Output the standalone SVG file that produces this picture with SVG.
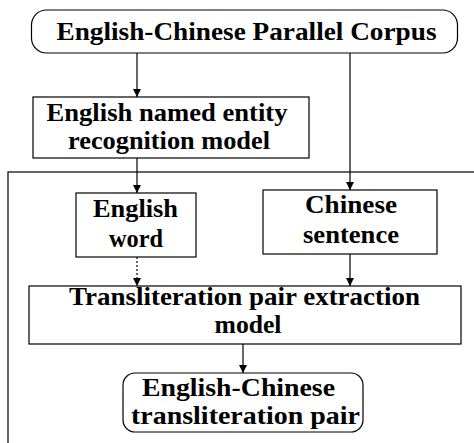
<svg xmlns="http://www.w3.org/2000/svg" width="474" height="443" viewBox="0 0 474 443">
<style>
.b{fill:#fff;stroke:#000;stroke-width:1.2}
.t{font-family:"Liberation Serif","Times New Roman",serif;font-weight:bold;font-size:25.5px;text-anchor:middle;fill:#000}
.c{stroke:#000;stroke-width:1.2;fill:none}
</style>
<defs>
<marker id="ah" viewBox="0 0 10 10" refX="10" refY="5" markerWidth="8" markerHeight="8" markerUnits="userSpaceOnUse" orient="auto">
<path d="M0,0 L10,5 L0,10 z" fill="#000"/>
</marker>
</defs>
<rect x="8" y="172" width="480" height="290" fill="none" stroke="#000" stroke-width="1.2"/>
<g id="n1"><rect class="b" x="31.5" y="10" width="426" height="43" rx="15"/><text class="t" x="246.5" y="40" textLength="380" lengthAdjust="spacingAndGlyphs">English-Chinese Parallel Corpus</text></g>
<g id="n2"><rect class="b" x="33" y="97" width="276" height="61"/><text class="t" x="167" y="121" textLength="241" lengthAdjust="spacingAndGlyphs">English named entity</text><text class="t" x="169" y="149" textLength="202" lengthAdjust="spacingAndGlyphs">recognition model</text></g>
<g id="n3"><rect class="b" x="76" y="193" width="120" height="64"/><text class="t" x="135.5" y="217" textLength="85" lengthAdjust="spacingAndGlyphs">English</text><text class="t" x="136" y="247" textLength="54" lengthAdjust="spacingAndGlyphs">word</text></g>
<g id="n4"><rect class="b" x="263" y="190" width="174" height="64"/><text class="t" x="351" y="213" textLength="92" lengthAdjust="spacingAndGlyphs">Chinese</text><text class="t" x="351" y="243" textLength="96" lengthAdjust="spacingAndGlyphs">sentence</text></g>
<g id="n5"><rect class="b" x="29" y="286" width="432" height="58"/><text class="t" x="244.5" y="305" textLength="351" lengthAdjust="spacingAndGlyphs">Transliteration pair extraction</text><text class="t" x="248" y="333" textLength="67" lengthAdjust="spacingAndGlyphs">model</text></g>
<g id="n6"><rect class="b" x="123" y="373" width="240" height="59" rx="12"/><text class="t" x="238.5" y="396" textLength="193" lengthAdjust="spacingAndGlyphs">English-Chinese</text><text class="t" x="245.5" y="424" textLength="229" lengthAdjust="spacingAndGlyphs">transliteration pair</text></g>
<g id="connectors">
<line class="c" x1="137" y1="53" x2="137" y2="97" marker-end="url(#ah)"/>
<line class="c" x1="137" y1="158" x2="137" y2="193" marker-end="url(#ah)"/>
<line class="c" x1="350" y1="53" x2="350" y2="190" marker-end="url(#ah)"/>
<line class="c" x1="137" y1="257" x2="137" y2="286" stroke-dasharray="2,2" marker-end="url(#ah)"/>
<line class="c" x1="350" y1="254" x2="350" y2="286" marker-end="url(#ah)"/>
<line class="c" x1="243" y1="344" x2="243" y2="373" marker-end="url(#ah)"/>
</g>
</svg>
